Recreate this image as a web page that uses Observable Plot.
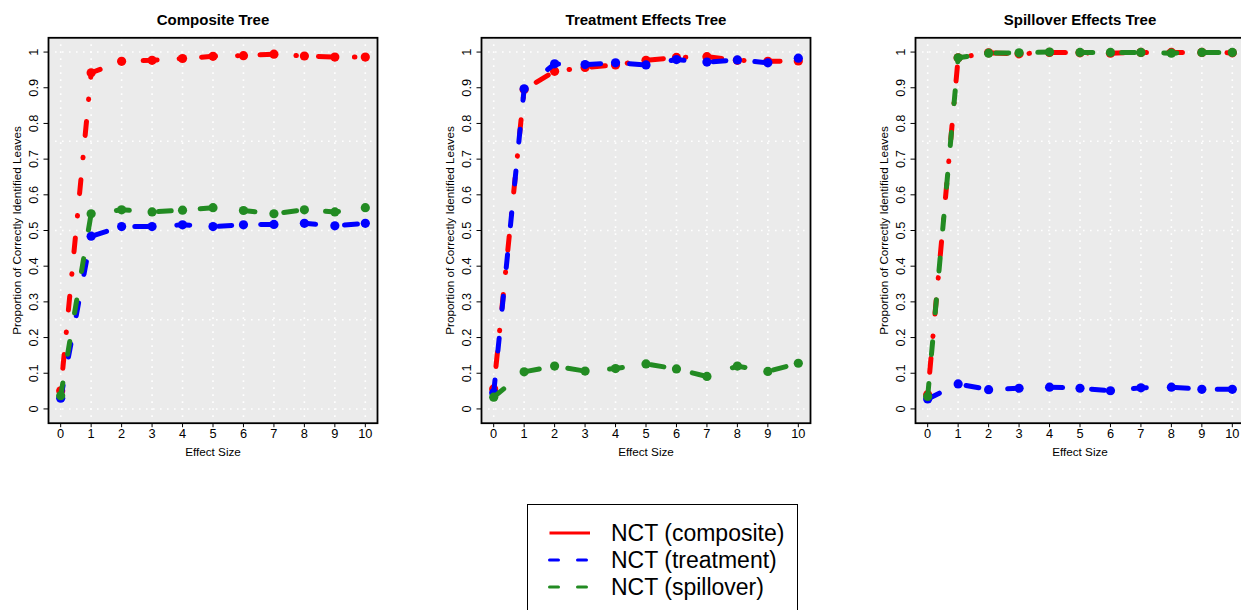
<!DOCTYPE html>
<html>
<head>
<meta charset="utf-8">
<script src="https://cdn.jsdelivr.net/npm/d3@7"></script>
<script src="https://cdn.jsdelivr.net/npm/@observablehq/plot@0.6"></script>
<style>
  html, body { margin: 0; padding: 0; background: #fff; }
  #root { position: relative; width: 1241px; height: 610px; overflow: hidden; font-family: "Liberation Sans", Arial, Helvetica, sans-serif; }
  .panel { position: absolute; top: 0; width: 433px; height: 470px; }
  .panel svg { max-width: none !important; }
  #legend { position: absolute; left: 527px; top: 504px; width: 271px; height: 120px; border: 1.2px solid #000; box-sizing: border-box; background: #fff; }
</style>
</head>
<body>
<div id="root"></div>
<script>
// ---- data ----
const effectSize = [0, 1, 2, 3, 4, 5, 6, 7, 8, 9, 10];

const panelTitles = ["Composite Tree", "Treatment Effects Tree", "Spillover Effects Tree"];
const seriesNames = ["NCT (composite)", "NCT (treatment)", "NCT (spillover)"];
const seriesColors = ["#ff0000", "#0000ff", "#228b22"];

// Composite Tree
const compositeTree_composite = [0.051, 0.942, 0.974, 0.977, 0.982, 0.988, 0.990, 0.994, 0.989, 0.986, 0.986];
const compositeTree_treatment = [0.030, 0.484, 0.511, 0.511, 0.516, 0.511, 0.516, 0.517, 0.520, 0.513, 0.520];
const compositeTree_spillover = [0.037, 0.547, 0.558, 0.552, 0.557, 0.564, 0.556, 0.547, 0.558, 0.552, 0.564];
// Treatment Effects Tree
const treatmentTree_composite = [0.056, 0.895, 0.946, 0.957, 0.964, 0.977, 0.985, 0.987, 0.977, 0.974, 0.975];
const treatmentTree_treatment = [0.045, 0.897, 0.967, 0.965, 0.970, 0.964, 0.979, 0.972, 0.978, 0.970, 0.983];
const treatmentTree_spillover = [0.033, 0.104, 0.120, 0.106, 0.113, 0.126, 0.112, 0.091, 0.120, 0.105, 0.128];
// Spillover Effects Tree
const spilloverTree_composite = [0.040, 0.984, 0.998, 0.995, 0.999, 0.998, 0.997, 0.999, 0.999, 0.999, 0.998];
const spilloverTree_treatment = [0.028, 0.070, 0.054, 0.058, 0.061, 0.058, 0.051, 0.059, 0.061, 0.055, 0.055];
const spilloverTree_spillover = [0.035, 0.984, 0.997, 0.998, 1.000, 0.999, 0.999, 0.999, 0.997, 0.999, 0.999];

// axes
const xTickValues = [0, 1, 2, 3, 4, 5, 6, 7, 8, 9, 10];
const xTickLabels = ["0", "1", "2", "3", "4", "5", "6", "7", "8", "9", "10"];
const yTickValues = [0, 0.1, 0.2, 0.3, 0.4, 0.5, 0.6, 0.7, 0.8, 0.9, 1];
const yTickLabels = ["0", "0.1", "0.2", "0.3", "0.4", "0.5", "0.6", "0.7", "0.8", "0.9", "1"];
const xGridValues = [0, 1, 2, 3, 4, 5, 6, 7, 8, 9, 10];
const yGridValues = [0, 0.25, 0.5, 0.75, 1];
const xLabel = "Effect Size";
const yLabel = "Proportion of Correctly Identified Leaves";

const panels = [
  [compositeTree_composite, compositeTree_treatment, compositeTree_spillover],
  [treatmentTree_composite, treatmentTree_treatment, treatmentTree_spillover],
  [spilloverTree_composite, spilloverTree_treatment, spilloverTree_spillover]
];

// ---- styling ----
const dashes = ["0.5,22,14,22", "13,29", "13,29"];
const panelLefts = [0, 433, 867];
const font = "Liberation Sans, Arial, Helvetica, sans-serif";

const root = document.getElementById("root");

panels.forEach((seriesList, p) => {
  const marks = [
    Plot.frame({fill: "#ebebeb"}),
    Plot.ruleX(xGridValues, {x: d => d, stroke: "#ffffff", strokeWidth: 1.6, strokeDasharray: "1.6,5.4"}),
    Plot.ruleY(yGridValues, {y: d => d, stroke: "#ffffff", strokeWidth: 1.6, strokeDasharray: "1.6,5.4"})
  ];
  seriesList.forEach((vals, s) => {
    const data = effectSize.map((x, i) => ({x, y: vals[i]}));
    marks.push(Plot.line(data, {
      x: "x", y: "y", stroke: seriesColors[s], strokeWidth: 5,
      strokeDasharray: dashes[s], strokeLinecap: "round", strokeLinejoin: "round"
    }));
    marks.push(Plot.dot(data, {x: "x", y: "y", r: 4.6, fill: seriesColors[s], stroke: "none"}));
  });
  marks.push(Plot.frame({stroke: "#000", strokeWidth: 1.8}));
  // tick labels
  marks.push(Plot.text(xTickValues, {
    x: d => d, text: (d, i) => xTickLabels[i], frameAnchor: "bottom", dy: 10.8,
    textAnchor: "middle", lineAnchor: "middle", fontSize: 12.8, fill: "#000"
  }));
  marks.push(Plot.text(yTickValues, {
    y: d => d, text: (d, i) => yTickLabels[i], frameAnchor: "left", dx: -15,
    rotate: -90, textAnchor: "middle", lineAnchor: "middle", fontSize: 12.8, fill: "#000"
  }));
  // axis titles and panel title
  marks.push(Plot.text([xLabel], {frameAnchor: "bottom", dy: 29.5, textAnchor: "middle", lineAnchor: "middle", fontSize: 11.7, fill: "#000"}));
  marks.push(Plot.text([yLabel], {frameAnchor: "left", dx: -31.7, rotate: -90, textAnchor: "middle", lineAnchor: "middle", fontSize: 11.7, fill: "#000"}));
  marks.push(Plot.text([panelTitles[p]], {frameAnchor: "top", dy: -17.3, textAnchor: "middle", lineAnchor: "middle", fontSize: 15, fontWeight: "bold", fill: "#000"}));

  const chart = Plot.plot({
    width: 433,
    height: 470,
    marginLeft: 48,
    marginRight: 56,
    marginTop: 37.3,
    marginBottom: 47.3,
    style: {fontFamily: font, fontSize: "12.5px", background: "transparent", overflow: "visible", color: "#000", maxWidth: "none"},
    x: {domain: [-0.4, 10.4], ticks: xTickValues, tickSize: 4.5, tickFormat: () => "", label: null},
    y: {domain: [-0.04, 1.04], ticks: yTickValues, tickSize: 4.5, tickFormat: () => "", label: null},
    marks
  });
  chart.style.maxWidth = "none";
  const wrap = document.createElement("div");
  wrap.className = "panel";
  wrap.style.left = panelLefts[p] + "px";
  wrap.appendChild(chart);
  root.appendChild(wrap);
});

// ---- legend ----
const legend = document.createElement("div");
legend.id = "legend";
const ns = "http://www.w3.org/2000/svg";
const lsvg = document.createElementNS(ns, "svg");
lsvg.setAttribute("width", 268);
lsvg.setAttribute("height", 118);
lsvg.style.position = "absolute";
lsvg.style.left = "0px";
lsvg.style.top = "0px";
const legendDashes = [null, "9,19", "9,19"];
const rowY = [28, 55, 82];
seriesNames.forEach((name, i) => {
  const ln = document.createElementNS(ns, "line");
  ln.setAttribute("x1", 21.5);
  ln.setAttribute("x2", legendDashes[i] ? 61.5 : 62);
  ln.setAttribute("y1", rowY[i]);
  ln.setAttribute("y2", rowY[i]);
  ln.setAttribute("stroke", seriesColors[i]);
  ln.setAttribute("stroke-width", 3);
  ln.setAttribute("stroke-linecap", legendDashes[i] ? "round" : "butt");
  if (legendDashes[i]) ln.setAttribute("stroke-dasharray", legendDashes[i]);
  lsvg.appendChild(ln);
  const tx = document.createElementNS(ns, "text");
  tx.setAttribute("x", 83);
  tx.setAttribute("y", rowY[i]);
  tx.setAttribute("dy", "0.35em");
  tx.setAttribute("font-size", "23px");
  tx.setAttribute("font-family", font);
  tx.setAttribute("fill", "#000");
  tx.textContent = name;
  lsvg.appendChild(tx);
});
legend.appendChild(lsvg);
root.appendChild(legend);
</script>
</body>
</html>
